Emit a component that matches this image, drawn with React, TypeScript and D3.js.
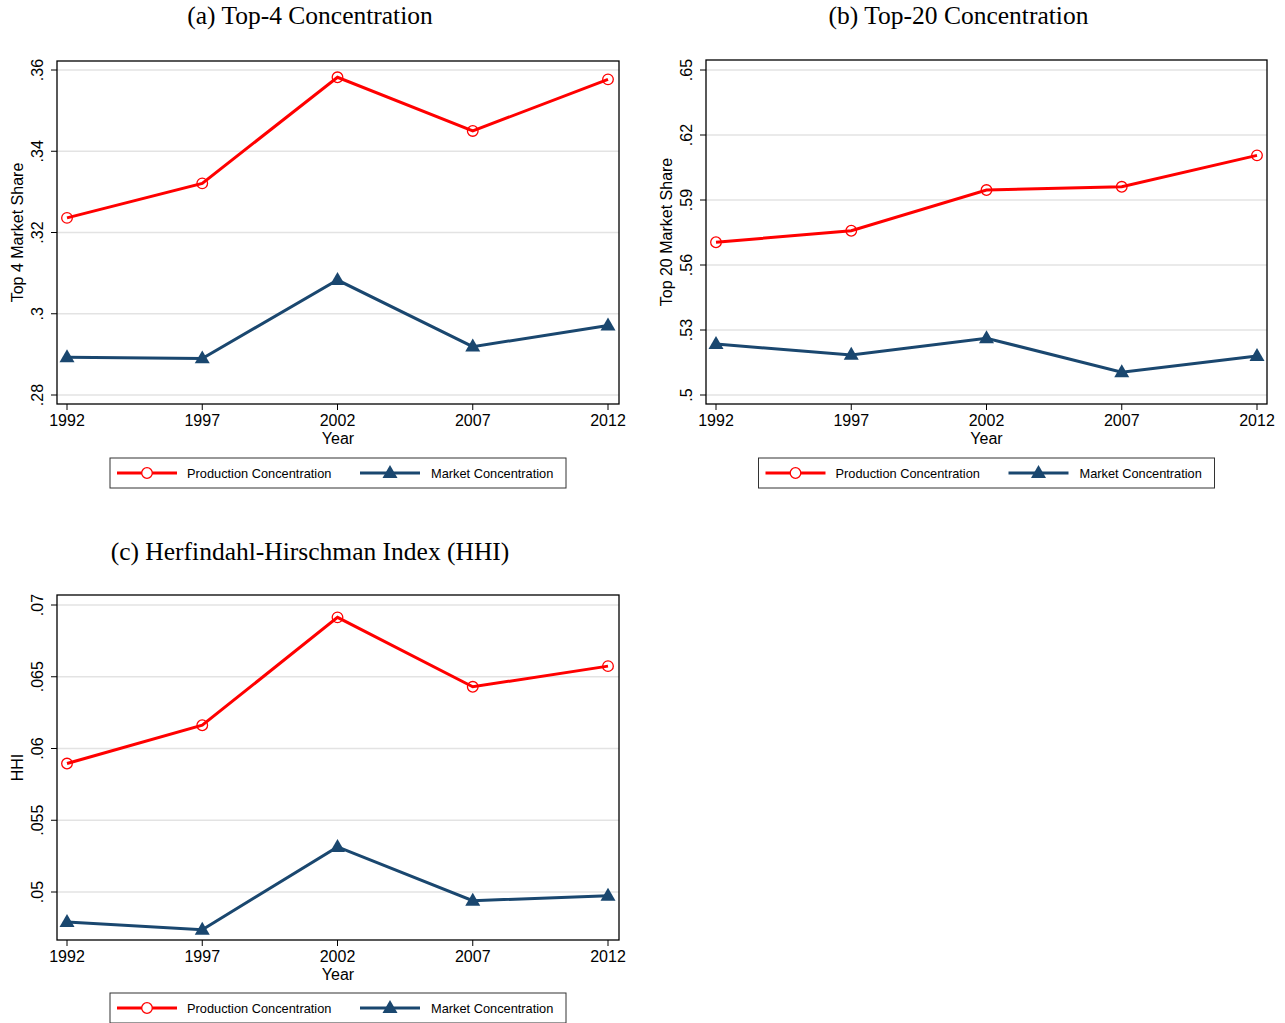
import React from "react";
import * as d3 from "d3";

const years = [1992, 1997, 2002, 2007, 2012];

const top4Production = [0.3236, 0.3321, 0.3582, 0.345, 0.3577];
const top4Market = [0.2893, 0.289, 0.3083, 0.2919, 0.2971];

const top20Production = [0.5705, 0.5758, 0.5946, 0.5961, 0.6106];
const top20Market = [0.5235, 0.5185, 0.5262, 0.5105, 0.518];

const hhiProduction = [0.05895, 0.06162, 0.06914, 0.0643, 0.06574];
const hhiMarket = [0.04791, 0.04737, 0.05314, 0.04939, 0.04974];

const top4Ticks = [0.28, 0.3, 0.32, 0.34, 0.36];
const top20Ticks = [0.5, 0.53, 0.56, 0.59, 0.62, 0.65];
const hhiTicks = [0.05, 0.055, 0.06, 0.065, 0.07];

const seriesNames = ["Production Concentration", "Market Concentration"];

const RED = "#ff0000";
const NAVY = "#1a476f";
const SANS = "'Liberation Sans', Arial, sans-serif";
const SERIF = "'Liberation Serif', 'Times New Roman', serif";

function fmt(v: number): string {
  let s = String(+v.toFixed(4));
  if (s.startsWith("0.")) s = s.slice(1);
  return s;
}

function tri(cx: number, cy: number, s: number): string {
  const h = s * 0.866;
  return `M${cx},${cy - h * 0.62} L${cx + s / 2},${cy + h * 0.38} L${cx - s / 2},${cy + h * 0.38} Z`;
}

type PanelProps = {
  title: string;
  yTitle: string;
  prod: number[];
  mkt: number[];
  ticks: number[];
  frame: { left: number; right: number; top: number; bottom: number };
  yRange: [number, number];
  xRange: [number, number];
  titleY: number;
  legendY: number;
};

function Panel(p: PanelProps) {
  const { frame } = p;
  const x = d3.scaleLinear().domain([1992, 2012]).range(p.xRange);
  const y = d3
    .scaleLinear()
    .domain([p.ticks[0], p.ticks[p.ticks.length - 1]])
    .range(p.yRange);
  const line = d3
    .line<number>()
    .x((_, i) => x(years[i]))
    .y((d) => y(d));
  const cx = (frame.left + frame.right) / 2;
  const legW = 456;
  const legX = cx - legW / 2;
  const legH = 30;
  return (
    <g>
      <text
        x={cx - 28}
        y={p.titleY}
        textAnchor="middle"
        fontFamily={SERIF}
        fontSize={25.5}
        fill="#000"
      >
        {p.title}
      </text>
      {p.ticks.map((t) => (
        <g key={t}>
          <line
            x1={frame.left}
            x2={frame.right}
            y1={y(t)}
            y2={y(t)}
            stroke="#e3e3e3"
            strokeWidth={1.5}
          />
          <line
            x1={frame.left - 6}
            x2={frame.left}
            y1={y(t)}
            y2={y(t)}
            stroke="#000"
            strokeWidth={1}
          />
          <text
            transform={`translate(${frame.left - 14},${y(t)}) rotate(-90)`}
            textAnchor="middle"
            fontFamily={SANS}
            fontSize={16}
            fill="#000"
          >
            {fmt(t)}
          </text>
        </g>
      ))}
      {years.map((yr) => (
        <g key={yr}>
          <line
            x1={x(yr)}
            x2={x(yr)}
            y1={frame.bottom}
            y2={frame.bottom + 6}
            stroke="#000"
            strokeWidth={1}
          />
          <text
            x={x(yr)}
            y={frame.bottom + 22}
            textAnchor="middle"
            fontFamily={SANS}
            fontSize={16}
            fill="#000"
          >
            {yr}
          </text>
        </g>
      ))}
      <text
        x={cx}
        y={frame.bottom + 40}
        textAnchor="middle"
        fontFamily={SANS}
        fontSize={16}
        fill="#000"
      >
        Year
      </text>
      <text
        transform={`translate(${frame.left - 34},${(frame.top + frame.bottom) / 2}) rotate(-90)`}
        textAnchor="middle"
        fontFamily={SANS}
        fontSize={16}
        fill="#000"
      >
        {p.yTitle}
      </text>
      <rect
        x={frame.left}
        y={frame.top}
        width={frame.right - frame.left}
        height={frame.bottom - frame.top}
        fill="none"
        stroke="#000"
        strokeWidth={1.3}
      />
      <path d={line(p.mkt) || ""} fill="none" stroke={NAVY} strokeWidth={3} />
      {p.mkt.map((v, i) => (
        <path key={i} d={tri(x(years[i]), y(v), 15)} fill={NAVY} />
      ))}
      <path d={line(p.prod) || ""} fill="none" stroke={RED} strokeWidth={3} />
      {p.prod.map((v, i) => (
        <circle
          key={i}
          cx={x(years[i])}
          cy={y(v)}
          r={5.3}
          fill="none"
          stroke={RED}
          strokeWidth={1.3}
        />
      ))}
      <rect
        x={legX}
        y={p.legendY}
        width={legW}
        height={legH}
        fill="#fff"
        stroke="#333"
        strokeWidth={1}
      />
      <line
        x1={legX + 7}
        x2={legX + 67}
        y1={p.legendY + legH / 2}
        y2={p.legendY + legH / 2}
        stroke={RED}
        strokeWidth={3}
      />
      <circle
        cx={legX + 37}
        cy={p.legendY + legH / 2}
        r={5.3}
        fill="#fff"
        stroke={RED}
        strokeWidth={1.3}
      />
      <text
        x={legX + 77}
        y={p.legendY + legH / 2 + 4.5}
        fontFamily={SANS}
        fontSize={12.8}
        fill="#000"
      >
        {seriesNames[0]}
      </text>
      <line
        x1={legX + 250}
        x2={legX + 310}
        y1={p.legendY + legH / 2}
        y2={p.legendY + legH / 2}
        stroke={NAVY}
        strokeWidth={3}
      />
      <path d={tri(legX + 280, p.legendY + legH / 2, 15)} fill={NAVY} />
      <text
        x={legX + 321}
        y={p.legendY + legH / 2 + 4.5}
        fontFamily={SANS}
        fontSize={12.8}
        fill="#000"
      >
        {seriesNames[1]}
      </text>
    </g>
  );
}

export default function App() {
  return (
    <svg
      width={1285}
      height={1023}
      style={{ position: "absolute", left: 0, top: 0, background: "#fff" }}
    >
      <rect x={0} y={0} width={1285} height={1023} fill="#fff" />
      <Panel
        title="(a) Top-4 Concentration"
        yTitle="Top 4 Market Share"
        prod={top4Production}
        mkt={top4Market}
        ticks={top4Ticks}
        frame={{ left: 57, right: 619, top: 61, bottom: 404 }}
        yRange={[395, 70]}
        xRange={[67, 608]}
        titleY={24}
        legendY={458}
      />
      <Panel
        title="(b) Top-20 Concentration"
        yTitle="Top 20 Market Share"
        prod={top20Production}
        mkt={top20Market}
        ticks={top20Ticks}
        frame={{ left: 706, right: 1267, top: 60, bottom: 404 }}
        yRange={[395, 70]}
        xRange={[716, 1257]}
        titleY={24}
        legendY={458}
      />
      <Panel
        title="(c) Herfindahl-Hirschman Index (HHI)"
        yTitle="HHI"
        prod={hhiProduction}
        mkt={hhiMarket}
        ticks={hhiTicks}
        frame={{ left: 57, right: 619, top: 595, bottom: 940 }}
        yRange={[892, 605]}
        xRange={[67, 608]}
        titleY={560}
        legendY={993}
      />
    </svg>
  );
}
